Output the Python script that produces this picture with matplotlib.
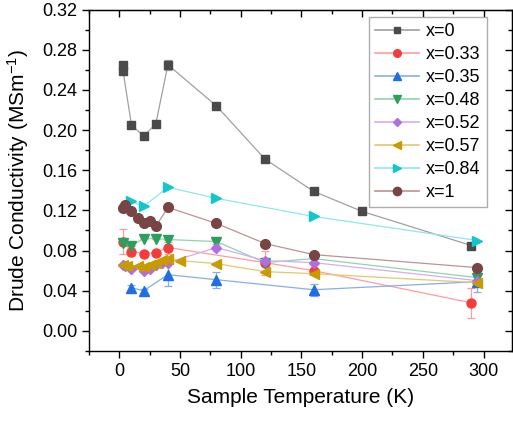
import numpy as np
import matplotlib
matplotlib.use("Agg")
import matplotlib.pyplot as plt
from matplotlib.lines import Line2D
from matplotlib.ticker import MultipleLocator

plt.rcParams['font.family'] = ['Liberation Sans', 'DejaVu Sans']
plt.rcParams['mathtext.default'] = 'regular'

# data (temperature in K, conductivity in MS/m)
labels = ['x=0', 'x=0.33', 'x=0.35', 'x=0.48', 'x=0.52', 'x=0.57', 'x=0.84', 'x=1']

T_0 = [3, 3, 10, 20, 30, 40, 80, 120, 160, 200, 290]
s_0 = [0.265, 0.259, 0.205, 0.194, 0.206, 0.265, 0.224, 0.171, 0.139, 0.119, 0.085]
e_0 = [0, 0, 0, 0, 0, 0.005, 0, 0, 0, 0, 0]

T_033 = [3, 10, 20, 30, 40, 120, 160, 290]
s_033 = [0.089, 0.079, 0.077, 0.078, 0.083, 0.068, 0.060, 0.028]
e_033 = [0.012, 0.004, 0, 0, 0.006, 0.012, 0, 0.015]

T_035 = [10, 20, 40, 80, 160, 295]
s_035 = [0.043, 0.040, 0.056, 0.051, 0.041, 0.049]
e_035 = [0.003, 0.002, 0.011, 0.008, 0.006, 0.010]

T_048 = [3, 10, 20, 30, 40, 80, 120, 160, 295]
s_048 = [0.088, 0.085, 0.092, 0.092, 0.091, 0.089, 0.068, 0.072, 0.053]
e_048 = [0, 0, 0, 0, 0, 0.002, 0, 0, 0.003]

T_052 = [3, 5, 10, 20, 25, 30, 35, 40, 80, 120, 160, 295]
s_052 = [0.066, 0.065, 0.062, 0.060, 0.062, 0.066, 0.068, 0.068, 0.083, 0.070, 0.068, 0.050]
e_052 = [0, 0, 0, 0, 0, 0, 0, 0, 0.002, 0.003, 0, 0.002]

T_057 = [3, 6, 15, 20, 25, 30, 35, 40, 50, 80, 120, 160, 295]
s_057 = [0.066, 0.065, 0.065, 0.064, 0.066, 0.068, 0.071, 0.072, 0.070, 0.067, 0.059, 0.057, 0.048]
e_057 = [0] * 13

T_084 = [10, 20, 40, 80, 160, 295]
s_084 = [0.129, 0.124, 0.143, 0.132, 0.114, 0.090]
e_084 = [0] * 6

T_1 = [3, 5, 10, 15, 20, 25, 30, 40, 80, 120, 160, 295]
s_1 = [0.122, 0.125, 0.119, 0.112, 0.107, 0.109, 0.104, 0.123, 0.107, 0.087, 0.076, 0.063]
e_1 = [0] * 12

temps = [T_0, T_033, T_035, T_048, T_052, T_057, T_084, T_1]
sigmas = [s_0, s_033, s_035, s_048, s_052, s_057, s_084, s_1]
errs = [e_0, e_033, e_035, e_048, e_052, e_057, e_084, e_1]

markers = ['s', 'o', '^', 'v', 'D', '<', '>', 'o']
mcolors = ['#4a4a4a', '#f53c3c', '#1f6fe3', '#2e9e5c', '#b06fe0', '#c89b00', '#12c6cf', '#784444']
lcolors = ['#a0a0a0', '#ff9c9c', '#84aef0', '#90d4aa', '#d6acf0', '#e4c86e', '#8ce8ec', '#bc9494']
msizes = [6, 6.5, 6.5, 7, 5.5, 7, 7, 7]

fig = plt.figure(figsize=(5.13, 4.23), dpi=100)
ax = fig.add_axes([0.1735, 0.1702, 0.8246, 0.8073])

handles = []
for i in range(len(labels)):
    ax.errorbar(temps[i], sigmas[i], yerr=errs[i], color=lcolors[i], lw=0.9,
                marker=markers[i], ms=msizes[i], mfc=mcolors[i], mec=mcolors[i],
                ecolor=lcolors[i], elinewidth=0.9, capsize=3, capthick=0.9, zorder=3)
    handles.append(Line2D([], [], color=lcolors[i], lw=1.2, marker=markers[i],
                          ms=msizes[i] - 1, mfc=mcolors[i], mec=mcolors[i]))

ax.set_xlim(-25, 323.5)
ax.set_ylim(-0.02, 0.32)
ax.xaxis.set_major_locator(MultipleLocator(50))
ax.xaxis.set_minor_locator(MultipleLocator(25))
ax.yaxis.set_major_locator(MultipleLocator(0.04))
ax.yaxis.set_minor_locator(MultipleLocator(0.02))
ax.yaxis.set_major_formatter(matplotlib.ticker.FormatStrFormatter('%.2f'))

ax.tick_params(which='both', direction='out', width=1, labelsize=13)
ax.tick_params(which='major', length=5)
ax.tick_params(which='minor', length=3)
for sp in ax.spines.values():
    sp.set_linewidth(1)

# mirrored ticks on top and right, pointing inward
top = ax.secondary_xaxis('top')
top.xaxis.set_major_locator(MultipleLocator(50))
top.xaxis.set_minor_locator(MultipleLocator(25))
top.tick_params(which='both', direction='in', labeltop=False, width=1)
top.tick_params(which='major', length=5)
top.tick_params(which='minor', length=3)
right = ax.secondary_yaxis('right')
right.yaxis.set_major_locator(MultipleLocator(0.04))
right.yaxis.set_minor_locator(MultipleLocator(0.02))
right.tick_params(which='both', direction='in', labelright=False, width=1)
right.tick_params(which='major', length=5)
right.tick_params(which='minor', length=3)

ax.set_xlabel('Sample Temperature (K)', fontsize=15, labelpad=6)
ax.set_ylabel('Drude Conductivity (MSm$^{-1}$)', fontsize=15, labelpad=8)

leg = ax.legend(handles, labels, loc='upper right', bbox_to_anchor=(0.94, 0.978),
                fontsize=13, frameon=True, fancybox=False, edgecolor='#999999',
                handlelength=2.4, handletextpad=0.4, labelspacing=0.33,
                borderpad=0.35, borderaxespad=0)
leg.get_frame().set_linewidth(1)

fig.savefig('out.png', dpi=100)
